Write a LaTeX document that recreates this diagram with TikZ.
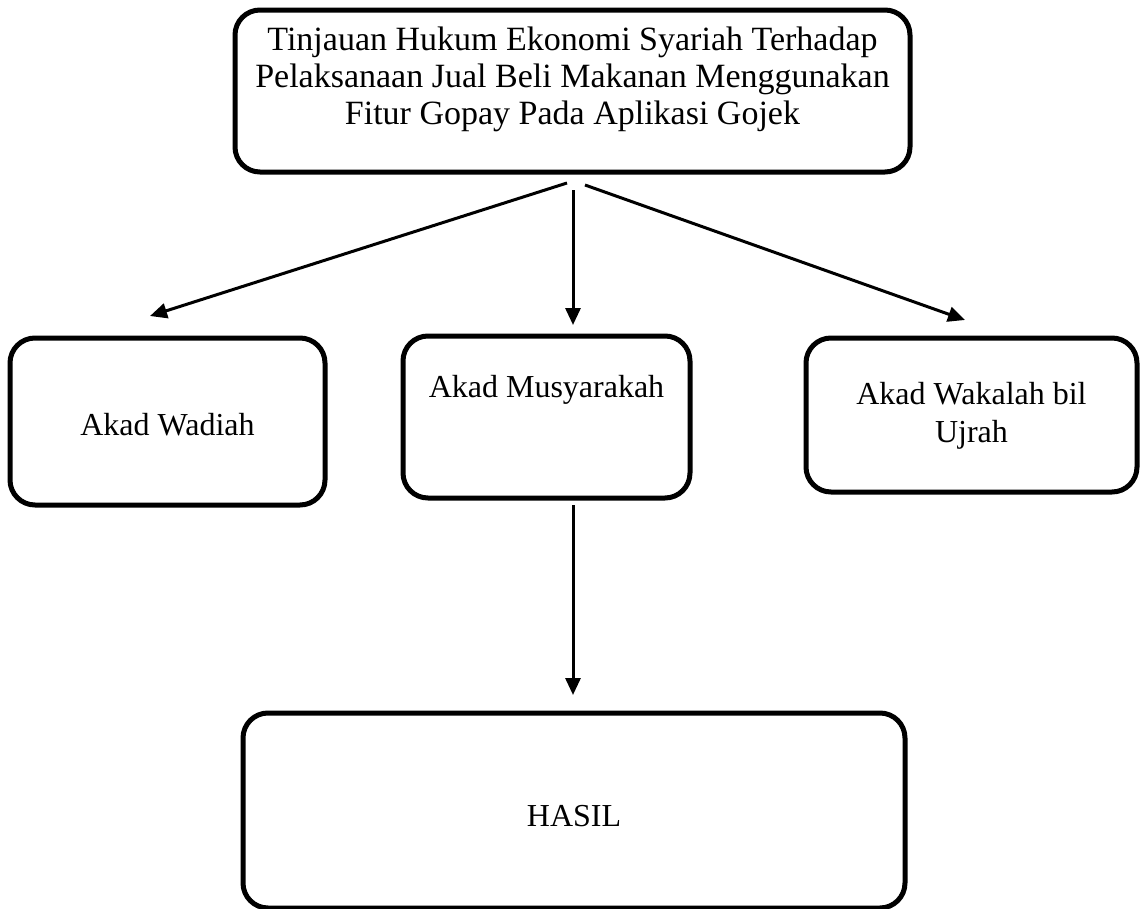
\documentclass[tikz,border=0pt]{standalone}
\usepackage{fontspec}
\setmainfont{Liberation Serif}
\usetikzlibrary{arrows.meta}
\begin{document}
\begin{tikzpicture}[x=1pt,y=-1pt,
  box/.style={draw, line width=5pt, rounded corners=25pt, inner sep=0pt},
  txt/.style={align=center, inner sep=0pt, font=\fontsize{32}{38}\selectfont},
  bigtxt/.style={align=center, inner sep=0pt, font=\fontsize{34}{37}\selectfont},
  conn/.style={line width=3pt, -{Triangle[length=17pt,width=15pt]}}]
\useasboundingbox (0,0) rectangle (1141,908);
\node[box, minimum width=675pt, minimum height=162pt] (top) at (572.5,91) {};
\node[bigtxt, yshift=12pt] (topT) at (top.center)
  {Tinjauan Hukum Ekonomi Syariah Terhadap\\Pelaksanaan Jual Beli Makanan Menggunakan\\Fitur Gopay Pada Aplikasi Gojek};
\node[box, minimum width=315pt, minimum height=167pt] (wadiah) at (167.5,421.5) {};
\node[txt, yshift=-3pt] (wadiahT) at (wadiah.center) {Akad Wadiah};
\node[box, minimum width=287pt, minimum height=162pt] (musy) at (546.5,417) {};
\node[txt, yshift=27pt] (musyT) at (musy.center) {Akad Musyarakah};
\node[box, minimum width=331pt, minimum height=154pt] (wakalah) at (971.5,415) {};
\node[txt, yshift=-1pt] (wakalahT) at (wakalah.center) {Akad Wakalah bil\\Ujrah};
\node[box, minimum width=662pt, minimum height=195pt] (hasil) at (574,810.5) {};
\node[txt, yshift=-6pt] (hasilT) at (hasil.center) {HASIL};
\coordinate (sL) at (567,183);
\coordinate (sM) at (573,190);
\coordinate (sR) at (585,185);
\coordinate (tL) at (150,316);
\coordinate (tM) at (573,325);
\coordinate (tR) at (965,320);
\coordinate (sD) at (573,505);
\coordinate (tD) at (573,695);
\draw[conn] (sL) -- (tL);
\draw[conn] (sM) -- (tM);
\draw[conn] (sR) -- (tR);
\draw[conn] (sD) -- (tD);
\end{tikzpicture}
\end{document}
